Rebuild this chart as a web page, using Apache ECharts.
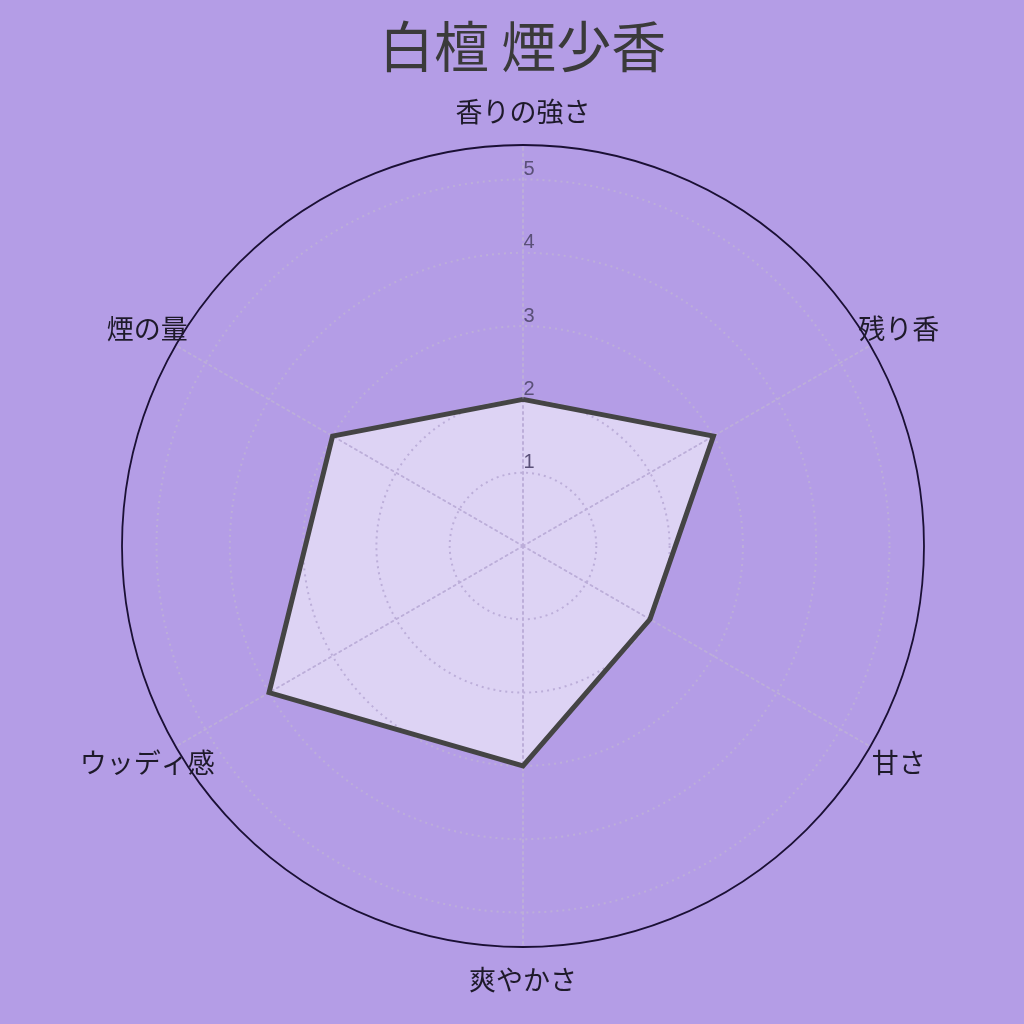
<!DOCTYPE html>
<html>
<head>
<meta charset="utf-8">
<script src="https://cdn.jsdelivr.net/npm/echarts@6/dist/echarts.min.js"></script>
<style>
html,body{margin:0;padding:0;background:#b49de6;}
#chart{width:1024px;height:1024px;}
</style>
</head>
<body>
<div id="chart"></div>
<script>
// Data (clockwise from top, as in the reference)
const titleText = '白檀 煙少香';
const categories = ['香りの強さ', '残り香', '甘さ', '爽やかさ', 'ウッディ感', '煙の量'];
const values = [2, 3, 2, 3, 4, 3];
const tickLabels = [1, 2, 3, 4, 5];
const scaleMax = 5;

// ECharts radar runs counter-clockwise: reorder to keep the reference's clockwise layout
const order = [0].concat(categories.slice(1).map((_, i) => categories.length - 1 - i));
const ecCategories = order.map(i => categories[i]);
const ecValues = order.map(i => values[i]);

const CX = 523, CY = 546, R_OUT = 401, R_IN = 366.5;
const cjk = '"Noto Sans CJK JP", "Noto Sans", sans-serif';
const gridDot = {color: '#bcaed9', type: [2, 4], width: 2};

const chart = echarts.init(document.getElementById('chart'), null, {renderer: 'canvas'});
chart.setOption({
  backgroundColor: '#b49de6',
  animation: false,
  title: {
    text: titleText,
    left: 374,
    top: 14,
    textStyle: {fontFamily: cjk, fontSize: 55, fontWeight: 'normal', color: '#3a3a3a'}
  },
  radar: [
    {
      z: 3,
      center: [CX, CY],
      radius: R_OUT,
      startAngle: 90,
      shape: 'circle',
      splitNumber: 1,
      indicator: ecCategories.map(n => ({name: n, max: scaleMax})),
      nameGap: 33,
      axisName: {
        color: '#1e1a2a',
        fontFamily: cjk,
        fontSize: 27,
        align: 'center',
        verticalAlign: 'middle'
      },
      axisLine: {show: true, lineStyle: gridDot},
      axisTick: {show: false},
      axisLabel: {show: false},
      splitLine: {show: true, lineStyle: {color: '#1b1035', width: 1.8}},
      splitArea: {show: false}
    },
    {
      z: 3,
      center: [CX, CY],
      radius: R_IN,
      startAngle: 90,
      shape: 'circle',
      splitNumber: tickLabels.length,
      indicator: ecCategories.map(n => ({name: '', max: scaleMax})),
      axisName: {show: false},
      axisLine: {show: false},
      axisTick: {show: false},
      axisLabel: {show: false},
      splitLine: {show: true, lineStyle: gridDot},
      splitArea: {show: false}
    }
  ],
  polar: {center: [CX, CY], radius: R_IN},
  angleAxis: {show: false, startAngle: 90, min: 0, max: 360},
  radiusAxis: {
    min: 0,
    max: scaleMax,
    interval: 1,
    z: 6,
    axisLine: {show: false},
    axisTick: {show: false},
    splitLine: {show: false},
    axisLabel: {
      show: true,
      showMinLabel: false,
      margin: -6,
      align: 'center',
      verticalAlign: 'bottom',
      color: '#5a5078',
      fontSize: 20,
      fontFamily: '"Liberation Sans", Arial, sans-serif',
      formatter: v => (tickLabels.indexOf(v) >= 0 ? String(v) : '')
    }
  },
  series: [
    {
      // filled area, under the grid
      type: 'radar',
      radarIndex: 1,
      z: 1,
      symbol: 'none',
      lineStyle: {width: 0, opacity: 0},
      areaStyle: {color: 'rgba(255,255,255,0.55)', opacity: 1},
      data: [{value: ecValues, name: titleText}]
    },
    {
      // outline, above the grid
      type: 'radar',
      radarIndex: 1,
      z: 5,
      symbol: 'none',
      lineStyle: {color: '#444444', width: 5, join: 'miter', opacity: 1},
      data: [{value: ecValues, name: titleText}]
    }
  ]
});
</script>
</body>
</html>
